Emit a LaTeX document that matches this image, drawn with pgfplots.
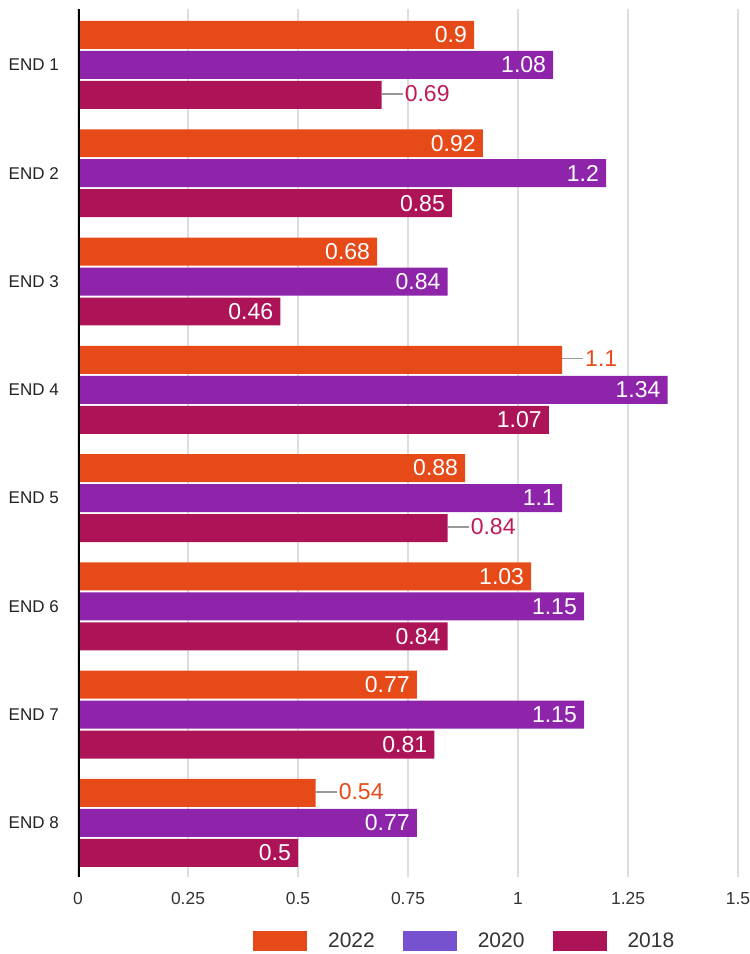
\documentclass[border=0pt]{standalone}
\usepackage{pgfplots}
\pgfplotsset{compat=1.18}
\usepackage{fontspec}
\setmainfont{Liberation Sans}
\definecolor{O22}{HTML}{E64A19}
\definecolor{P20}{HTML}{8E24AA}
\definecolor{L20}{HTML}{7652D1}
\definecolor{C18}{HTML}{AD1457}
\definecolor{T18}{HTML}{BE1A5C}
\definecolor{GR}{HTML}{DDDDDD}
\definecolor{LD}{HTML}{999999}
\definecolor{TX}{HTML}{333333}
\definecolor{TY}{HTML}{222222}
\begin{document}
\begin{tikzpicture}[x=1bp,y=1bp]
\path[use as bounding box] (0,0) rectangle (750,954);
\begin{axis}[
  at={(78bp,77bp)}, anchor=south west,
  width=660bp, height=868bp, scale only axis,
  xmin=0, xmax=1.5, ymin=-0.517, ymax=7.5,
  y dir=reverse,
  axis line style={draw=none},
  major tick length=0pt,
  xtick={0,0.25,0.5,0.75,1,1.25,1.5},
  xticklabels={0,0.25,0.5,0.75,1,1.25,1.5},
  ytick={0,1,2,3,4,5,6,7},
  yticklabels={END 1,END 2,END 3,END 4,END 5,END 6,END 7,END 8},
  xmajorgrids, grid style={color=GR, line width=2.5bp},
  xticklabel style={font=\fontsize{17.4bp}{20bp}\selectfont, text=TX, inner sep=0pt, anchor=north, yshift=-15bp},
  yticklabel style={font=\fontsize{17bp}{20bp}\selectfont, text=TY, inner sep=0pt, anchor=east, xshift=-19bp},
  xbar, bar width=0.2585,
  point meta=explicit symbolic,
  nodes near coords,
  legend style={at={(0.265,-0.0737)}, anchor=west, draw=none, fill=none, inner sep=0pt,
    font=\fontsize{21bp}{24bp}\selectfont, text=TX,
    /tikz/every odd column/.append style={column sep=19bp},
    /tikz/every even column/.append style={column sep=26bp}},
  legend columns=3,
  legend image code/.code={\fill[#1, draw=none] (0bp,-10bp) rectangle (54bp,10bp);},
  inlab/.style={nodes near coords style={anchor=east, xshift=-7bp, text=white, inner sep=0pt, font=\fontsize{23bp}{26bp}\selectfont}},
  outlab/.style={nodes near coords style={anchor=west, xshift=23bp, text=#1, inner sep=0pt, font=\fontsize{23bp}{26bp}\selectfont}},
]
\addplot[forget plot, fill=O22, draw=none, bar shift=-0.277, inlab] coordinates {
  (0.9,0) [0.9] (0.92,1) [0.92] (0.68,2) [0.68] (1.1,3) [{}]
  (0.88,4) [0.88] (1.03,5) [1.03] (0.77,6) [0.77] (0.54,7) [{}]};
\addplot[forget plot, fill=P20, draw=none, bar shift=0, inlab] coordinates {
  (1.08,0) [1.08] (1.2,1) [1.2] (0.84,2) [0.84] (1.34,3) [1.34]
  (1.1,4) [1.1] (1.15,5) [1.15] (1.15,6) [1.15] (0.77,7) [0.77]};
\addplot[forget plot, fill=C18, draw=none, bar shift=0.277, inlab] coordinates {
  (0.69,0) [{}] (0.85,1) [0.85] (0.46,2) [0.46] (1.07,3) [1.07]
  (0.84,4) [{}] (0.84,5) [0.84] (0.81,6) [0.81] (0.5,7) [0.5]};
% outside labels with leader lines
\addplot[forget plot, draw=none, mark=none, xbar=0pt, bar width=0, outlab=O22,
  error bars/.cd, x dir=plus, x explicit, error mark=none,
  error bar style={draw=LD, line width=1.4bp, solid}]
  coordinates {(1.1,2.723) +- (0.048,0) [1.1] (0.54,6.723) +- (0.048,0) [0.54]};
\addplot[forget plot, draw=none, mark=none, xbar=0pt, bar width=0, outlab=T18,
  error bars/.cd, x dir=plus, x explicit, error mark=none,
  error bar style={draw=LD, line width=1.4bp, solid}]
  coordinates {(0.69,0.277) +- (0.048,0) [0.69] (0.84,4.277) +- (0.048,0) [0.84]};
\addlegendimage{fill=O22}\addlegendentry{2022}
\addlegendimage{fill=L20}\addlegendentry{2020}
\addlegendimage{fill=C18}\addlegendentry{2018}
\draw[black, line width=3bp] (rel axis cs:0,0) -- (rel axis cs:0,1);
\end{axis}
\end{tikzpicture}
\end{document}
